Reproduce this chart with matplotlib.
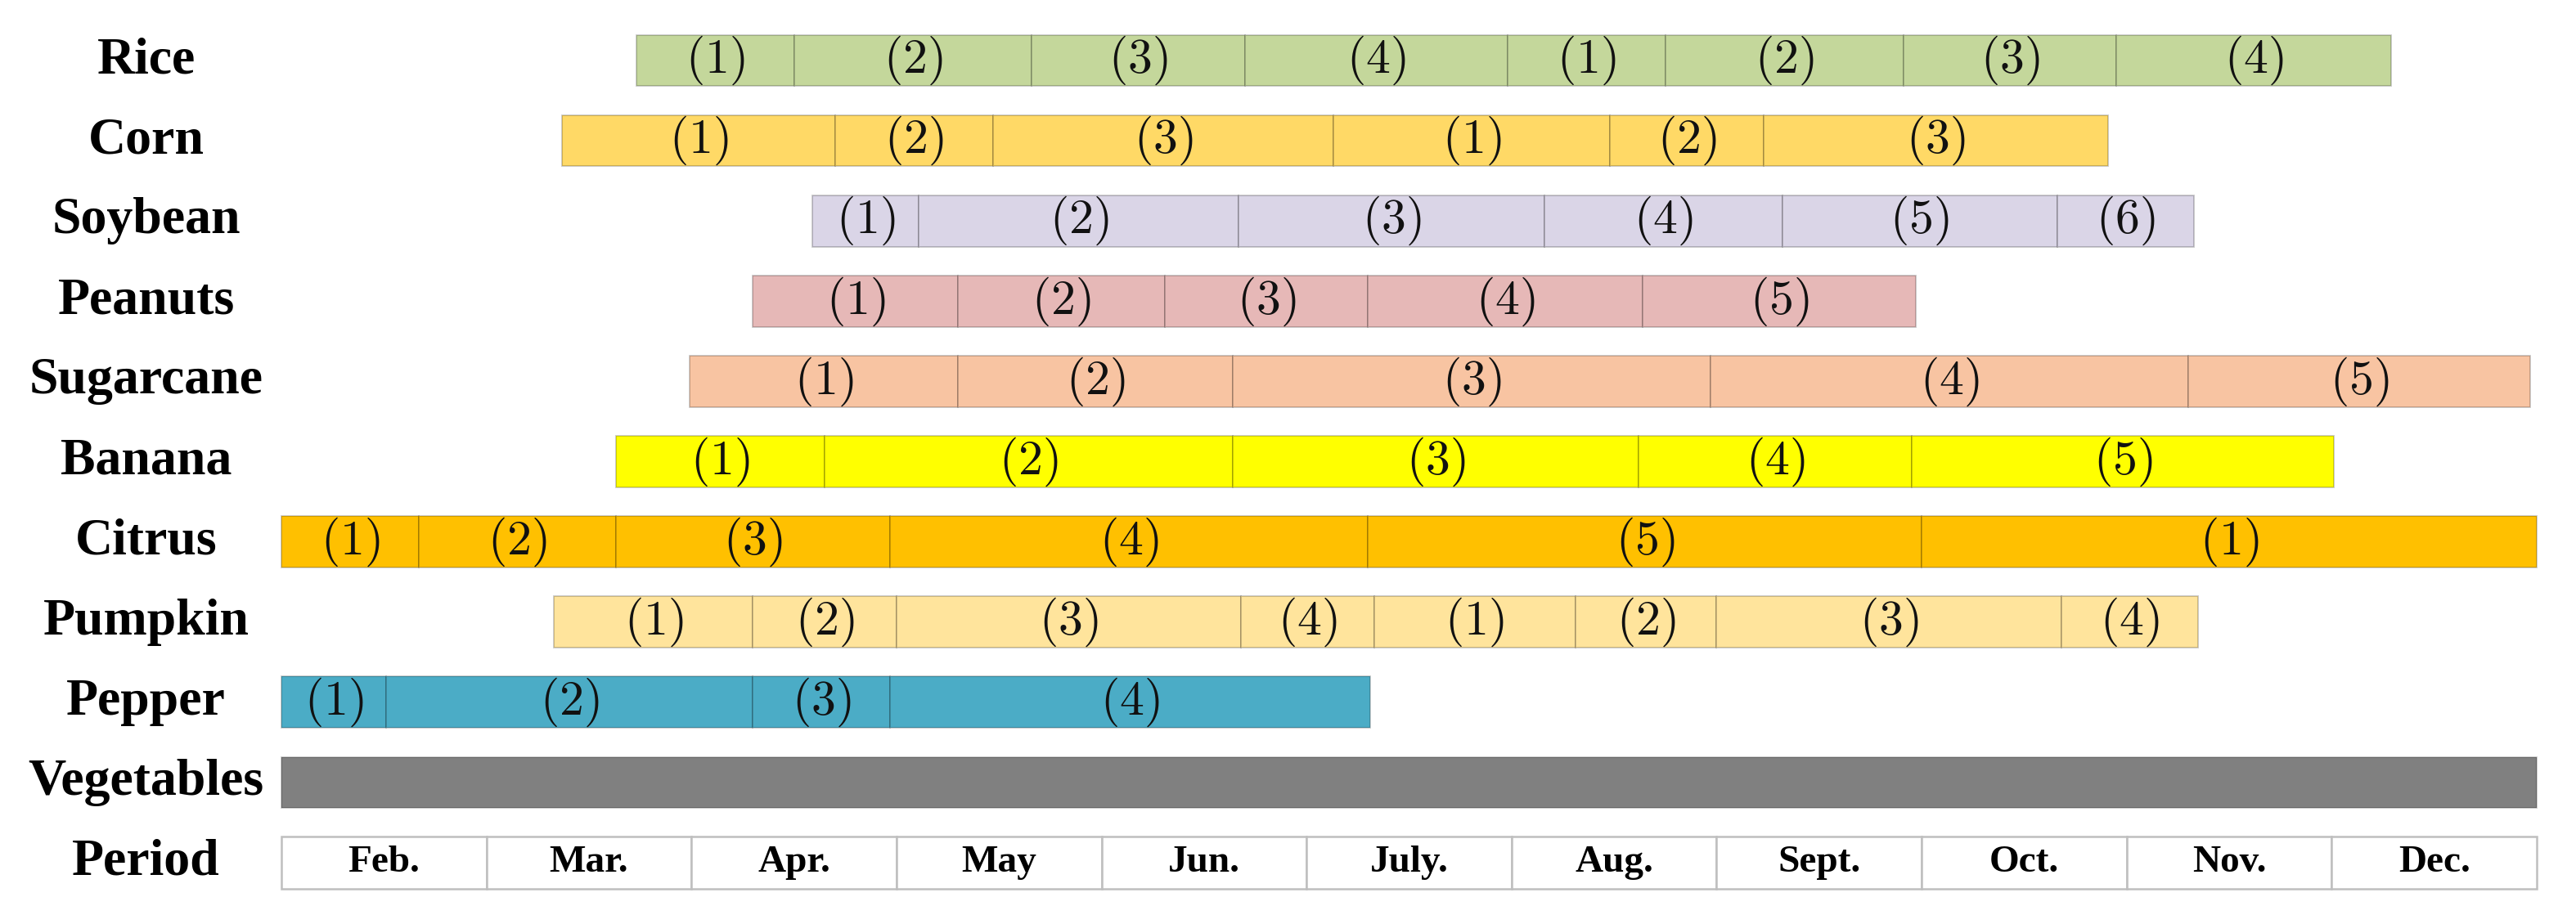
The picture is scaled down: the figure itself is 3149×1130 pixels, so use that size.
import matplotlib.pyplot as plt
import numpy as np

plt.rcParams['font.family'] = ['Liberation Serif', 'DejaVu Serif']
plt.rcParams['mathtext.fontset'] = 'cm'

crops = ['Rice', 'Corn', 'Soybean', 'Peanuts', 'Sugarcane', 'Banana',
         'Citrus', 'Pumpkin', 'Pepper', 'Vegetables']
months = ['Feb.', 'Mar.', 'Apr.', 'May', 'Jun.', 'July.', 'Aug.',
          'Sept.', 'Oct.', 'Nov.', 'Dec.']

# stage boundaries in months, counted from the start of Feb.
rice_edges = [1.73, 2.50, 3.66, 4.70, 5.98, 6.75, 7.91, 8.95, 10.29]
rice_stages = [1, 2, 3, 4, 1, 2, 3, 4]
corn_edges = [1.37, 2.70, 3.47, 5.13, 6.48, 7.23, 8.91]
corn_stages = [1, 2, 3, 1, 2, 3]
soybean_edges = [2.59, 3.11, 4.67, 6.16, 7.32, 8.66, 9.33]
soybean_stages = [1, 2, 3, 4, 5, 6]
peanuts_edges = [2.30, 3.30, 4.31, 5.30, 6.64, 7.97]
peanuts_stages = [1, 2, 3, 4, 5]
sugarcane_edges = [1.99, 3.30, 4.64, 6.97, 9.30, 10.97]
sugarcane_stages = [1, 2, 3, 4, 5]
banana_edges = [1.63, 2.65, 4.64, 6.62, 7.95, 10.01]
banana_stages = [1, 2, 3, 4, 5]
citrus_edges = [0.0, 0.67, 1.63, 2.97, 5.30, 8.00, 11.0]
citrus_stages = [1, 2, 3, 4, 5, 1]
pumpkin_edges = [1.33, 2.30, 3.00, 4.68, 5.33, 6.31, 7.00, 8.68, 9.35]
pumpkin_stages = [1, 2, 3, 4, 1, 2, 3, 4]
pepper_edges = [0.0, 0.51, 2.30, 2.97, 5.31]
pepper_stages = [1, 2, 3, 4]
vegetables_edges = [0.0, 11.0]
vegetables_stages = [None]

all_edges = [rice_edges, corn_edges, soybean_edges, peanuts_edges, sugarcane_edges,
             banana_edges, citrus_edges, pumpkin_edges, pepper_edges, vegetables_edges]
all_stages = [rice_stages, corn_stages, soybean_stages, peanuts_stages, sugarcane_stages,
              banana_stages, citrus_stages, pumpkin_stages, pepper_stages, vegetables_stages]
colors = ['#C4D79B', '#FFD966', '#DAD5E7', '#E6B8B7', '#F8C4A2',
          '#FFFF00', '#FFC000', '#FFE49C', '#4BACC6', '#808080']

fig = plt.figure(figsize=(31.49, 11.30), dpi=100)
ax = fig.add_axes([0, 0, 1, 1])

bh = 0.64
for i, (edges, stages, c) in enumerate(zip(all_edges, all_stages, colors)):
    edges = np.array(edges)
    lefts = edges[:-1]
    widths = np.diff(edges)
    ax.barh(i, widths, left=lefts, height=bh, color=c,
            edgecolor=(0, 0, 0, 0.22), linewidth=1.3)
    for l, w, s in zip(lefts, widths, stages):
        if s is not None:
            ax.text(l + w / 2, i, r'$(%d)$' % s, ha='center', va='center',
                    fontsize=43, color='#111111')
    ax.text(-0.66, i, crops[i], ha='center', va='center', fontsize=46,
            fontweight='bold')

# period row
prow = len(crops)
ax.barh(prow, np.ones(len(months)), left=np.arange(len(months)), height=0.65,
        color='white', edgecolor='#BFBFBF', linewidth=1.8)
for k, m in enumerate(months):
    ax.text(k + 0.5, prow, m, ha='center', va='center', fontsize=34,
            fontweight='bold')
ax.text(-0.66, prow, 'Period', ha='center', va='center', fontsize=46,
        fontweight='bold')

# map month 0 -> 344 px and month 11 -> 3101 px; row 0 -> 74 px, row 10 -> 1055 px
ppm = (3101 - 344) / 11.0
ax.set_xlim(-344 / ppm, (3149 - 344) / ppm)
ppr = (1055 - 74) / 10.0
ax.set_ylim((1130 - 74) / ppr, -74 / ppr)
ax.axis('off')

fig.savefig('out.png', dpi=100)
